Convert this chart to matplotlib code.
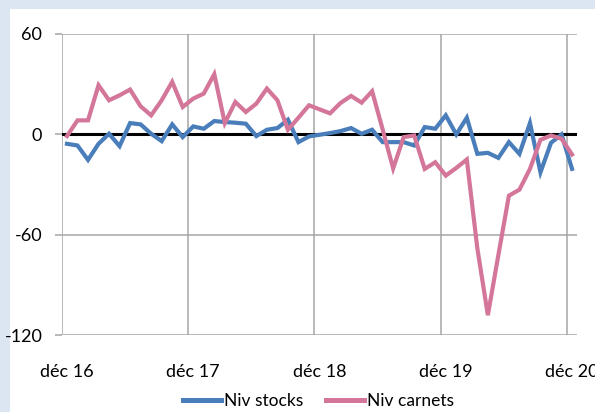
import matplotlib.pyplot as plt
from matplotlib.patches import Rectangle

# Niveau des stocks et des carnets, mensuel de déc 16 à déc 20
niv_stocks = [-5.6, -6.6, -15.2, -5.6, 0.4, -7, 6.8, 6, 0.4, -4, 6, -1.6,
              4.8, 3.4, 8, 7.4, 7, 6.4, -1, 2.8, 3.8, 8.8, -4.6, -1.2,
              -0.2, 0.8, 2, 3.8, 0.4, 2.8, -4.6, -4.6, -4.6, -6.6, 4.4, 3.4,
              11.4, 0, 10, -11.6, -11, -14, -4.6, -11.6, 6.8, -22.6, -5, 0,
              -20.6]
niv_carnets = [-1, 8.4, 8.4, 29.4, 20.4, 23.4, 26.8, 16.8, 11.4, 20.4, 31.4, 16.4,
               21.4, 24.4, 36, 6.8, 19.4, 13.4, 18.4, 27.4, 20.4, 2.8, 10, 17.4,
               15, 12.6, 18.8, 23, 19, 25.8, 3, -20.3, -1.6, -0.6, -20.6, -16.6,
               -24.6, -20, -15, -68, -108, -72, -36.6, -33, -20.6, -3.2, -0.6, -2.6,
               -12]
tick_labels = ["déc 16", "déc 17", "déc 18", "déc 19", "déc 20"]

plt.rcParams['font.family'] = ['Lato', 'DejaVu Sans']
plt.rcParams['axes.unicode_minus'] = False

fig = plt.figure(figsize=(5.95, 4.12), dpi=100)
fig.patch.set_facecolor("#dce6f2")
panel = Rectangle((10 / 595, 0), 1, 1 - 9 / 412, transform=fig.transFigure,
                  facecolor="white", edgecolor="none", zorder=-10)
fig.add_artist(panel)

ax = fig.add_axes([61.7 / 595, 1 - 335.3 / 412, (577.3 - 61.7) / 595, (335.3 - 34) / 412])
ax.set_facecolor("none")
ax.set_zorder(1)

x = list(range(len(niv_stocks)))
grid_c = "#a6a6a6"
for g in [-0.5, 11.5, 23.5, 35.5, 47.5]:
    ax.axvline(g, color=grid_c, lw=1.1, zorder=1)
for g in [60, -60, -120]:
    ax.axhline(g, color=grid_c, lw=1.1, zorder=1)
ax.axhline(0, color="black", lw=2.2, zorder=2)

ax.plot(x, niv_stocks, color="#4a7ebb", lw=3, label="Niv stocks", zorder=3,
        solid_joinstyle="miter")
ax.plot(x, niv_carnets, color="#d4759a", lw=3, label="Niv carnets", zorder=4,
        solid_joinstyle="miter")

ax.set_xlim(-0.5, 48.5)
ax.set_ylim(-120, 60)
ax.set_yticks([60, 0, -60, -120])
ax.set_xticks([0, 12, 24, 36, 48])
ax.set_xticklabels(tick_labels)
ax.tick_params(axis="y", length=5, color=grid_c, width=1.1, pad=9, labelsize=13)
ax.tick_params(axis="x", length=0, pad=21, labelsize=13)
for s in ax.spines.values():
    s.set_visible(False)

leg = fig.legend(loc="center", bbox_to_anchor=(0.535, 1 - 401 / 412), ncol=2, frameon=False,
                 fontsize=12.5, handlelength=2.2, handletextpad=0.15, columnspacing=1.3)
for h in leg.legend_handles:
    h.set_linewidth(3.6)

fig.savefig("out.png", dpi=100, facecolor=fig.get_facecolor())
